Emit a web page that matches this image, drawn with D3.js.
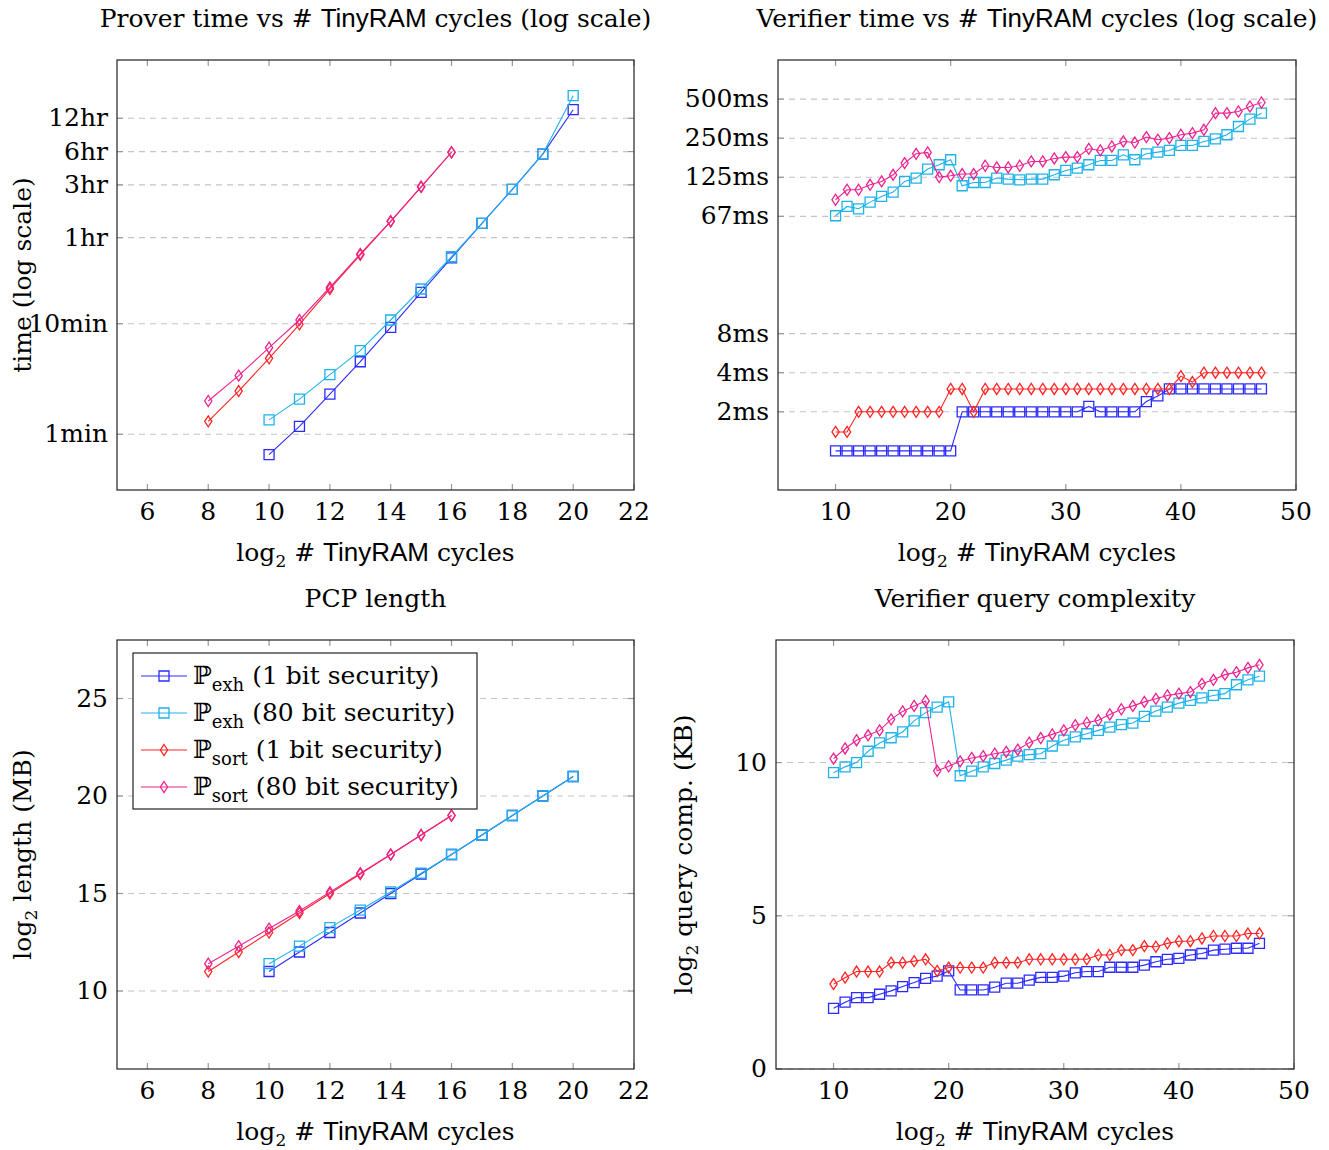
<!DOCTYPE html>
<html lang="en">
<head>
<meta charset="UTF-8">
<title>TinyRAM PCP measurements</title>
<script src="https://cdn.jsdelivr.net/npm/d3@7"></script>
<style>
  body { margin: 0; background: #fff; }
  text { font-family: "DejaVu Serif", serif; fill: #000; }
  .sans { font-family: "Liberation Sans", sans-serif; }
  .bb { font-family: "DejaVu Serif", serif; }
</style>
</head>
<body>
<div id="chart"></div>
<script>
// series names
var seriesNames = ["exh (1 bit security)", "exh (80 bit security)", "sort (1 bit security)", "sort (80 bit security)"];
var colors = ["#2b2bff", "#1db2ea", "#ff2424", "#ec2290"];
var markers = ["square", "square", "diamond", "diamond"];

// x values (log2 # TinyRAM cycles)
var cyclesExh = [10, 11, 12, 13, 14, 15, 16, 17, 18, 19, 20];
var cyclesSort = [8, 9, 10, 11, 12, 13, 14, 15, 16];
var cyclesVer = [10, 11, 12, 13, 14, 15, 16, 17, 18, 19, 20, 21, 22, 23, 24, 25, 26, 27, 28, 29,
                 30, 31, 32, 33, 34, 35, 36, 37, 38, 39, 40, 41, 42, 43, 44, 45, 46, 47];

// prover time, minutes
var proverExh1 = [0.654, 1.18, 2.31, 4.53, 9.27, 19.2, 39.3, 80.9, 164, 342, 861];
var proverExh80 = [1.35, 2.08, 3.46, 5.70, 10.8, 20.6, 40.3, 80.9, 164, 342, 1153];
var proverSort1 = [1.31, 2.46, 4.86, 9.88, 20.6, 42, 84.3, 173, 355];
var proverSort80 = [2.0, 3.39, 6.07, 10.8, 21.3, 42.7, 84.3, 173, 355];
var proverTicks = [1, 10, 60, 180, 360, 720];
var proverTickLabels = ["1min", "10min", "1hr", "3hr", "6hr", "12hr"];

// verifier time, ms
var verExh1 = [1, 1, 1, 1, 1, 1, 1, 1, 1, 1, 1, 2, 2, 2, 2, 2, 2, 2, 2, 2, 2, 2, 2.2, 2, 2, 2, 2, 2.4, 2.65,
               3, 3, 3, 3, 3, 3, 3, 3, 3];
var verExh80 = [64.7, 76.3, 73.2, 82.4, 91.1, 98.4, 118.9, 126.2, 148, 159.8, 174.6, 110.1, 116.7, 116.7,
                126.2, 123.9, 122.4, 123.9, 123.9, 133.8, 144.5, 150.6, 159.8, 172.5, 172.5, 190.7, 174.6,
                194, 200, 206, 225, 225, 241.5, 253, 272, 315, 359, 399];
var verSort1 = [1.4, 1.4, 2, 2, 2, 2, 2, 2, 2, 2, 3, 3, 2, 3, 3, 3, 3, 3, 3, 3, 3, 3, 3, 3, 3, 3, 3, 3, 3, 3,
                3.77, 3.39, 4, 4, 4, 4, 4, 4];
var verSort80 = [85.9, 102.6, 102.6, 112, 118.9, 133.8, 164.6, 194, 198.8, 128.4, 131.4, 135.5, 135.5, 157,
                 152.3, 152.3, 157, 169.5, 169.5, 178.7, 183, 183, 212, 206, 221, 241.5, 237, 261, 249,
                 256.4, 272, 280, 297, 399, 399, 411, 449, 482];
var verTicks = [2, 4, 8, 64, 128, 256, 512];
var verTickLabels = ["2ms", "4ms", "8ms", "67ms", "125ms", "250ms", "500ms"];

// PCP length, log2 MB
var lenExh1 = [11, 12, 13, 14, 15, 16, 17, 18, 19, 20, 21];
var lenExh80 = [11.4, 12.3, 13.25, 14.15, 15.08, 16.04, 17, 18, 19, 20, 21];
var lenSort1 = [11, 12, 13, 14, 15, 16, 17, 18, 19];
var lenSort80 = [11.4, 12.3, 13.2, 14.1, 15.07, 16.04, 17, 18, 19];
var lenTicks = [10, 15, 20, 25];

// query complexity, log2 KB
var qExh1 = [1.98, 2.18, 2.33, 2.33, 2.44, 2.55, 2.69, 2.82, 2.96, 3.03, 3.20, 2.58, 2.58, 2.58, 2.67, 2.80,
             2.80, 2.90, 2.99, 2.99, 3.03, 3.14, 3.18, 3.18, 3.32, 3.32, 3.32, 3.39, 3.50, 3.58, 3.61, 3.72,
             3.77, 3.88, 3.91, 3.94, 3.94, 4.10];
var qExh80 = [9.67, 9.86, 10.0, 10.37, 10.64, 10.81, 11.0, 11.36, 11.63, 11.81, 11.98, 9.57, 9.72, 9.86,
              9.97, 10.08, 10.21, 10.26, 10.29, 10.54, 10.73, 10.84, 10.94, 11.05, 11.16, 11.24, 11.29,
              11.51, 11.68, 11.81, 11.94, 12.03, 12.11, 12.19, 12.25, 12.54, 12.70, 12.82];
var qSort1 = [2.77, 2.98, 3.18, 3.18, 3.18, 3.47, 3.47, 3.52, 3.58, 3.20, 3.31, 3.31, 3.31, 3.31, 3.47, 3.47,
              3.47, 3.58, 3.58, 3.58, 3.58, 3.58, 3.58, 3.72, 3.72, 3.88, 3.88, 4.01, 3.99, 4.10, 4.17, 4.17,
              4.26, 4.34, 4.34, 4.34, 4.42, 4.42];
var qSort80 = [10.13, 10.46, 10.73, 10.89, 11.05, 11.41, 11.67, 11.85, 12.01, 9.73, 9.88, 10.04, 10.15, 10.21,
               10.29, 10.35, 10.42, 10.65, 10.80, 10.92, 11.05, 11.22, 11.30, 11.38, 11.57, 11.74, 11.85,
               11.98, 12.08, 12.19, 12.25, 12.30, 12.57, 12.70, 12.87, 12.95, 13.09, 13.19];
var qTicks = [0, 5, 10];

var smallTicks = [6, 8, 10, 12, 14, 16, 18, 20, 22];
var bigTicks = [10, 20, 30, 40, 50];

var svg = d3.select("#chart").append("svg")
    .attr("width", 1329)
    .attr("height", 1150);

var fs = 25;

// "log2 # TinyRAM cycles"
function xTitle(g, x, y) {
    var t = g.append("text").attr("x", x).attr("y", y)
        .attr("text-anchor", "middle").style("font-size", fs + "px");
    t.append("tspan").text("log");
    t.append("tspan").attr("dy", 6).style("font-size", "17px").text("2");
    t.append("tspan").attr("dy", -6).text(" # ");
    t.append("tspan").attr("class", "sans").style("font-size", "26px").text("TinyRAM");
    t.append("tspan").text(" cycles");
}

function panel(p) {
    var g = svg.append("g");
    var x = d3.scaleLinear().domain(p.xDomain).range([p.left, p.right]);
    var y = (p.yScale || d3.scaleLinear()).domain(p.yDomain).range([p.bottom, p.top]);

    // grid
    g.selectAll(".grid").data(p.yTicks).enter().append("line")
        .attr("x1", p.left).attr("x2", p.right)
        .attr("y1", function(d) { return y(d); }).attr("y2", function(d) { return y(d); })
        .attr("stroke", "#c4c4c4").attr("stroke-width", 1.1).attr("stroke-dasharray", "6,5");

    // inward ticks on all four sides
    var tk = 6;
    p.xTicks.forEach(function(d) {
        g.append("line").attr("x1", x(d)).attr("x2", x(d)).attr("y1", p.bottom).attr("y2", p.bottom - tk)
            .attr("stroke", "#999").attr("stroke-width", 1.2);
        g.append("line").attr("x1", x(d)).attr("x2", x(d)).attr("y1", p.top).attr("y2", p.top + tk)
            .attr("stroke", "#999").attr("stroke-width", 1.2);
    });
    p.yTicks.forEach(function(d) {
        g.append("line").attr("x1", p.left).attr("x2", p.left + tk).attr("y1", y(d)).attr("y2", y(d))
            .attr("stroke", "#999").attr("stroke-width", 1.2);
        g.append("line").attr("x1", p.right).attr("x2", p.right - tk).attr("y1", y(d)).attr("y2", y(d))
            .attr("stroke", "#999").attr("stroke-width", 1.2);
    });

    // tick labels
    g.selectAll(".xl").data(p.xTicks).enter().append("text")
        .attr("x", function(d) { return x(d); }).attr("y", p.bottom + 30)
        .attr("text-anchor", "middle").style("font-size", fs + "px")
        .text(function(d) { return d; });
    g.selectAll(".yl").data(p.yTicks).enter().append("text")
        .attr("x", p.left - 9).attr("y", function(d) { return y(d) + 8; })
        .attr("text-anchor", "end").style("font-size", fs + "px")
        .text(function(d, i) { return p.yLabels ? p.yLabels[i] : d; });

    // series
    var line = d3.line().x(function(d) { return x(d[0]); }).y(function(d) { return y(d[1]); });
    p.series.forEach(function(s, i) {
        var pts = s.xs.map(function(v, j) { return [v, s.ys[j]]; });
        g.append("path").datum(pts).attr("d", line)
            .attr("fill", "none").attr("stroke", colors[i]).attr("stroke-width", 1.1);
        var m = g.append("g").selectAll("path").data(pts).enter().append("path")
            .attr("transform", function(d) { return "translate(" + x(d[0]) + "," + y(d[1]) + ")"; })
            .attr("fill", "none").attr("stroke", colors[i]).attr("stroke-width", 1.3);
        if (markers[i] == "square") m.attr("d", "M-5,-5H5V5H-5Z");
        else m.attr("d", "M0,-5.5L3.6,0L0,5.5L-3.6,0Z");
    });

    // frame
    g.append("rect").attr("x", p.left).attr("y", p.top)
        .attr("width", p.right - p.left).attr("height", p.bottom - p.top)
        .attr("fill", "none").attr("stroke", "#222").attr("stroke-width", 1.2);

    // titles
    var cx = (p.left + p.right) / 2;
    if (p.title) {
        p.title(g, cx, p.top - 33);
    }
    xTitle(g, cx, p.bottom + 71);
    if (p.yTitle) p.yTitle(g, p.yTitleX, (p.top + p.bottom) / 2);
    return { x: x, y: y, g: g };
}

function plainTitle(str) {
    return function(g, x, y) {
        g.append("text").attr("x", x).attr("y", y).attr("text-anchor", "middle")
            .style("font-size", fs + "px").text(str);
    };
}
function cyclesTitle(pre) {
    return function(g, x, y) {
        var t = g.append("text").attr("x", x).attr("y", y).attr("text-anchor", "middle")
            .style("font-size", fs + "px");
        t.append("tspan").text(pre + " vs # ");
        t.append("tspan").attr("class", "sans").style("font-size", "26px").text("TinyRAM");
        t.append("tspan").text(" cycles (log scale)");
    };
}
function rotTitle(parts) {
    return function(g, x, y) {
        var t = g.append("text").attr("transform", "translate(" + x + "," + y + ") rotate(-90)")
            .attr("text-anchor", "middle").style("font-size", fs + "px");
        parts(t);
    };
}

panel({
    left: 117, right: 634, top: 60, bottom: 490,
    xDomain: [5, 22], xTicks: smallTicks,
    yScale: d3.scaleLog(), yDomain: [0.3135, 2423], yTicks: proverTicks, yLabels: proverTickLabels,
    series: [
        { xs: cyclesExh, ys: proverExh1 }, { xs: cyclesExh, ys: proverExh80 },
        { xs: cyclesSort, ys: proverSort1 }, { xs: cyclesSort, ys: proverSort80 }
    ],
    title: cyclesTitle("Prover time"),
    yTitleX: 31,
    yTitle: rotTitle(function(t) { t.text("time (log scale)"); })
});

panel({
    left: 778, right: 1296, top: 60, bottom: 490,
    xDomain: [5, 50], xTicks: bigTicks,
    yScale: d3.scaleLog().base(2), yDomain: [0.5, 1024], yTicks: verTicks, yLabels: verTickLabels,
    series: [
        { xs: cyclesVer, ys: verExh1 }, { xs: cyclesVer, ys: verExh80 },
        { xs: cyclesVer, ys: verSort1 }, { xs: cyclesVer, ys: verSort80 }
    ],
    title: cyclesTitle("Verifier time")
});

var pcp = panel({
    left: 117, right: 634, top: 640, bottom: 1069,
    xDomain: [5, 22], xTicks: smallTicks,
    yDomain: [6, 28], yTicks: lenTicks,
    series: [
        { xs: cyclesExh, ys: lenExh1 }, { xs: cyclesExh, ys: lenExh80 },
        { xs: cyclesSort, ys: lenSort1 }, { xs: cyclesSort, ys: lenSort80 }
    ],
    title: plainTitle("PCP length"),
    yTitleX: 31,
    yTitle: rotTitle(function(t) {
        t.append("tspan").text("log");
        t.append("tspan").attr("dy", 6).style("font-size", "17px").text("2");
        t.append("tspan").attr("dy", -6).text(" length (MB)");
    })
});

panel({
    left: 776, right: 1294, top: 640, bottom: 1069,
    xDomain: [5, 50], xTicks: bigTicks,
    yDomain: [0, 14], yTicks: qTicks,
    series: [
        { xs: cyclesVer, ys: qExh1 }, { xs: cyclesVer, ys: qExh80 },
        { xs: cyclesVer, ys: qSort1 }, { xs: cyclesVer, ys: qSort80 }
    ],
    title: plainTitle("Verifier query complexity"),
    yTitleX: 692,
    yTitle: rotTitle(function(t) {
        t.append("tspan").text("log");
        t.append("tspan").attr("dy", 6).style("font-size", "17px").text("2");
        t.append("tspan").attr("dy", -6).text(" query comp. (KB)");
    })
});

// legend inside the PCP panel
var lg = pcp.g.append("g").attr("transform", "translate(133,653)");
lg.append("rect").attr("width", 344).attr("height", 156)
    .attr("fill", "#fff").attr("stroke", "#222").attr("stroke-width", 1.2);
seriesNames.forEach(function(name, i) {
    var cy = 23 + i * 37;
    lg.append("line").attr("x1", 8).attr("x2", 54).attr("y1", cy).attr("y2", cy)
        .attr("stroke", colors[i]).attr("stroke-width", 1.1);
    lg.append("path").attr("transform", "translate(31," + cy + ")")
        .attr("d", markers[i] == "square" ? "M-5,-5H5V5H-5Z" : "M0,-5.5L3.6,0L0,5.5L-3.6,0Z")
        .attr("fill", "none").attr("stroke", colors[i]).attr("stroke-width", 1.3);
    var parts = name.split(" ");
    var t = lg.append("text").attr("x", 60).attr("y", cy + 8).style("font-size", fs + "px");
    t.append("tspan").attr("class", "bb").text("\u2119");
    t.append("tspan").attr("dy", 7).style("font-size", "18px").text(parts[0]);
    t.append("tspan").attr("dy", -7).text(" " + parts.slice(1).join(" "));
});
</script>
</body>
</html>
